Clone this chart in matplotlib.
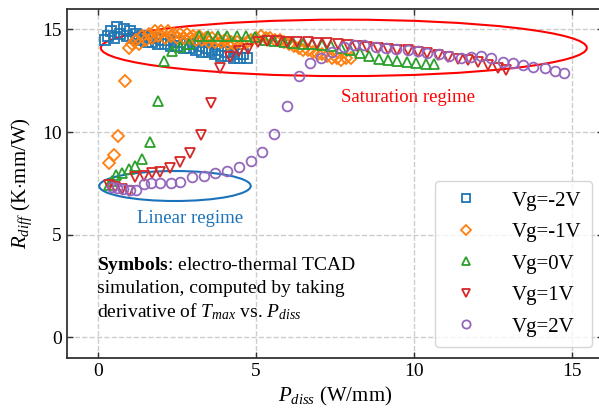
import matplotlib
matplotlib.use("Agg")
import matplotlib.pyplot as plt
from matplotlib.patches import Ellipse

# thermal resistance Rdiff vs dissipated power, one series per gate bias
vg_labels = ["Vg=-2V", "Vg=-1V", "Vg=0V", "Vg=1V", "Vg=2V"]

p_m2 = [0.20, 0.30, 0.40, 0.50, 0.60, 0.70, 0.80, 0.90, 1.00, 1.10, 1.20, 1.30,
        1.40, 1.50, 1.60, 1.70, 1.80, 1.90, 2.00, 2.10, 2.20, 2.30, 2.40, 2.50,
        2.60, 2.70, 2.80, 2.90, 3.00, 3.10, 3.20, 3.30, 3.40, 3.50, 3.60, 3.70,
        3.80, 3.90, 4.00, 4.10, 4.20, 4.30, 4.40, 4.50, 4.60, 4.70]
r_m2 = [14.5, 14.7, 14.9, 14.6, 15.1, 14.8, 15.0, 14.7, 14.9, 14.6, 14.8, 14.5,
        14.7, 14.4, 14.6, 14.4, 14.6, 14.3, 14.5, 14.3, 14.5, 14.2, 14.4, 14.2,
        14.4, 14.1, 14.3, 14.1, 14.3, 14.0, 14.2, 13.9, 14.1, 13.9, 14.0, 13.8,
        14.0, 13.7, 13.9, 13.7, 13.9, 13.6, 13.8, 13.6, 13.8, 13.6]

p_m1 = [0.33, 0.49, 0.64, 0.84, 0.96, 1.08, 1.20, 1.30, 1.40, 1.50, 1.60, 1.70,
        1.80, 1.90, 2.00, 2.10, 2.20, 2.30, 2.40, 2.50, 2.60, 2.70, 2.80, 2.90,
        3.00, 3.10, 3.20, 3.30, 3.40, 3.50, 3.60, 3.70, 3.80, 3.90, 4.00, 4.10,
        4.20, 4.30, 4.40, 4.55, 4.70, 4.85, 5.00, 5.15, 5.30, 5.45, 5.60, 5.75,
        5.90, 6.05, 6.20, 6.35, 6.50, 6.65, 6.80, 6.95, 7.10, 7.25, 7.40, 7.55,
        7.70, 7.85, 8.00]
r_m1 = [8.5, 8.9, 9.8, 12.5, 14.1, 14.3, 14.5, 14.3, 14.7, 14.5, 14.8, 14.6,
        14.9, 14.7, 14.9, 14.6, 14.9, 14.7, 14.8, 14.6, 14.8, 14.6, 14.8, 14.6,
        14.7, 14.5, 14.7, 14.5, 14.6, 14.4, 14.6, 14.4, 14.5, 14.4, 14.5, 14.3,
        14.4, 14.3, 14.4, 14.3, 14.4, 14.5, 14.6, 14.7, 14.6, 14.6, 14.5, 14.5,
        14.4, 14.3, 14.2, 14.1, 14.0, 14.0, 13.9, 13.8, 13.8, 13.7, 13.6, 13.6,
        13.5, 13.6, 13.6]

p_0 = [0.33, 0.43, 0.57, 0.75, 0.96, 1.15, 1.37, 1.63, 1.88, 2.08, 2.34, 2.60,
       2.88, 3.18, 3.48, 3.78, 4.08, 4.38, 4.68, 4.98, 5.28, 5.58, 5.88, 6.18,
       6.48, 6.78, 7.08, 7.38, 7.68, 7.98, 8.28, 8.58, 8.88, 9.18, 9.48, 9.78,
       10.08, 10.38, 10.65]
r_0 = [7.4, 7.6, 7.9, 8.0, 8.18, 8.34, 8.67, 9.53, 11.5, 13.44, 13.93, 14.13,
       14.3, 14.66, 14.7, 14.7, 14.7, 14.7, 14.7, 14.65, 14.5, 14.45, 14.4, 14.35,
       14.3, 14.3, 14.25, 14.2, 14.1, 14.0, 13.85, 13.7, 13.55, 13.5, 13.45, 13.4,
       13.35, 13.3, 13.3]

p_p1 = [0.33, 0.54, 0.75, 0.96, 1.17, 1.44, 1.70, 1.97, 2.26, 2.58, 2.92, 3.24,
        3.56, 3.87, 4.17, 4.45, 4.75, 5.05, 5.35, 5.67, 5.99, 6.31, 6.63, 6.94,
        7.26, 7.58, 7.90, 8.21, 8.53, 8.85, 9.17, 9.48, 9.80, 10.12, 10.43, 10.75,
        11.07, 11.39, 11.70, 12.02, 12.34, 12.66, 12.92]
r_p1 = [7.42, 7.34, 7.22, 7.13, 7.79, 7.86, 7.99, 8.07, 8.23, 8.55, 8.96, 9.85,
        11.43, 13.13, 13.67, 13.96, 14.03, 14.4, 14.45, 14.42, 14.40, 14.40, 14.40, 14.35,
        14.35, 14.27, 14.24, 14.19, 14.15, 14.07, 14.03, 13.99, 13.99, 13.91, 13.83, 13.75,
        13.67, 13.54, 13.5, 13.42, 13.26, 13.1, 13.02]

p_p2 = [0.43, 0.59, 0.78, 0.99, 1.21, 1.44, 1.68, 1.97, 2.29, 2.60, 2.97, 3.34,
        3.71, 4.08, 4.45, 4.83, 5.20, 5.57, 5.97, 6.36, 6.71, 7.05, 7.42, 7.79,
        8.11, 8.42, 8.79, 9.11, 9.43, 9.80, 10.12, 10.43, 10.80, 11.12, 11.49, 11.81,
        12.13, 12.44, 12.82, 13.13, 13.45, 13.77, 14.14, 14.46, 14.77]
r_p2 = [7.34, 7.26, 7.21, 7.17, 7.17, 7.45, 7.5, 7.5, 7.53, 7.58, 7.79, 7.86,
        7.99, 8.12, 8.31, 8.59, 9.04, 9.89, 11.27, 12.73, 13.35, 13.59, 13.91, 14.15,
        14.24, 14.24, 14.15, 14.11, 14.03, 13.99, 13.95, 13.83, 13.78, 13.7, 13.62, 13.64,
        13.7, 13.59, 13.42, 13.35, 13.26, 13.18, 13.1, 12.97, 12.86]

series = [(p_m2, r_m2), (p_m1, r_m1), (p_0, r_0), (p_p1, r_p1), (p_p2, r_p2)]
markers = ["s", "D", "^", "v", "o"]
colors = ["#1f77b4", "#ff7f0e", "#2ca02c", "#d62728", "#9467bd"]

plt.rcParams["font.family"] = ["Liberation Serif", "DejaVu Serif"]
plt.rcParams["mathtext.fontset"] = "custom"
plt.rcParams["mathtext.rm"] = "Liberation Serif"
plt.rcParams["mathtext.it"] = "Liberation Serif:italic"
plt.rcParams["mathtext.bf"] = "Liberation Serif:bold"

fig = plt.figure(figsize=(5.99, 4.11), dpi=100)
ax = fig.add_axes([0.1114, 0.1294, 0.8957, 0.849])

for (x, y), m, c, lab in zip(series, markers, colors, vg_labels):
    ax.plot(x, y, linestyle="none", marker=m, markersize=7 if m != "D" else 6,
            markerfacecolor="none", markeredgecolor=c, markeredgewidth=1.3,
            label=lab)

# regime outlines
ax.add_patch(Ellipse((7.78, 14.1), 15.4, 2.75, fill=False, edgecolor="red", lw=1.5))
ax.add_patch(Ellipse((2.43, 7.37), 4.8, 1.46, fill=False, edgecolor="#1a72bb", lw=1.5))
ax.text(9.8, 11.7, "Saturation regime", color="red", fontsize=13.5,
        ha="center", va="center")
ax.text(2.9, 5.8, "Linear regime", color="#1a72bb", fontsize=13.5,
        ha="center", va="center")

ax.text(-0.05, 3.52, r"$\mathbf{Symbols}$: electro-thermal TCAD", fontsize=14,
        va="center")
ax.text(-0.05, 2.4, "simulation, computed by taking", fontsize=14, va="center")
ax.text(-0.05, 1.25, r"derivative of $T_{max}$ vs. $P_{diss}$", fontsize=14,
        va="center")

ax.set_xlim(-1, 16)
ax.set_ylim(-1, 16)
ax.set_xticks([0, 5, 10, 15])
ax.set_yticks([0, 5, 10, 15])
ax.tick_params(direction="in", top=True, right=True, length=4, width=1,
               labelsize=14, colors="#333333", labelcolor="black")
for s in ax.spines.values():
    s.set_color("#333333")
    s.set_linewidth(1.3)
ax.grid(True, linestyle="--", color="#cccccc", linewidth=1)
ax.set_axisbelow(True)

ax.set_xlabel(r"$P_{diss}$ (W/mm)", fontsize=15, labelpad=4)
ax.set_ylabel(r"$R_{diff}$ (K$\cdot$mm/W)", fontsize=15, labelpad=6)

ax.legend(loc="lower right", bbox_to_anchor=(0.979, 0.031), borderaxespad=0,
          fontsize=15, markerscale=0.85, labelspacing=0.57, handletextpad=1.2,
          borderpad=0.5)

fig.savefig("out.png", dpi=100)
